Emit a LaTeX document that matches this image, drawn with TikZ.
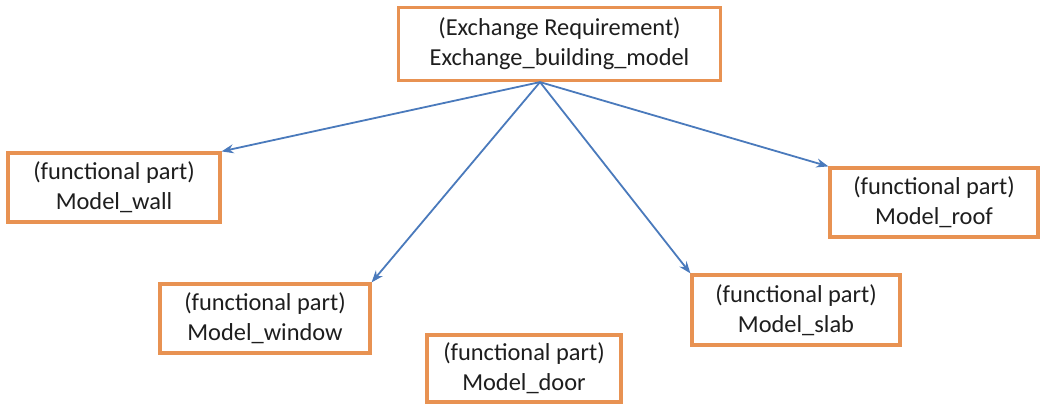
\documentclass[tikz,border=0pt]{standalone}
\usepackage{fontspec}
\setmainfont{Carlito}
\usetikzlibrary{arrows.meta}
\definecolor{boxorange}{RGB}{232,146,82}
\definecolor{linkblue}{RGB}{74,122,188}
\definecolor{inktext}{RGB}{30,30,30}
\begin{document}
\begin{tikzpicture}[x=1pt,y=-1pt,
  partbox/.style={draw=boxorange, line width=3.2pt, fill=white, rectangle,
    align=center, text=inktext, font=\fontsize{24.4pt}{29.8pt}\selectfont,
    inner sep=0pt},
  link/.style={draw=linkblue, line width=1.8pt, -{Stealth[length=12pt,width=9pt]}}]
  \useasboundingbox (0,0) rectangle (1040,404);
  \fill[white] (0,0) rectangle (1040,404);
  % requirement at the top, parts below
  \node[partbox, minimum width=322, minimum height=73] (req) at (559.5,44)
    {(Exchange Requirement)\\Exchange\_building\_model};
  \node[partbox, minimum width=212, minimum height=69] (wall) at (114,187.5)
    {(functional part)\\Model\_wall};
  \node[partbox, minimum width=210, minimum height=69] (window) at (265,318.5)
    {(functional part)\\Model\_window};
  \node[partbox, minimum width=194, minimum height=67] (door) at (524,368.5)
    {(functional part)\\Model\_door};
  \node[partbox, minimum width=208, minimum height=69] (roof) at (934,202.5)
    {(functional part)\\Model\_roof};
  \node[partbox, minimum width=208, minimum height=70] (slab) at (796,310)
    {(functional part)\\Model\_slab};
  % links fanning out from one point under the requirement box
  \coordinate (hub) at ([xshift=-19.5pt]req.south);
  \draw[link] (hub) -- (wall.north east);
  \draw[link] (hub) -- (window.north east);
  \draw[link] (hub) -- (slab.north west);
  \draw[link] (hub) -- (roof.north west);
\end{tikzpicture}
\end{document}
